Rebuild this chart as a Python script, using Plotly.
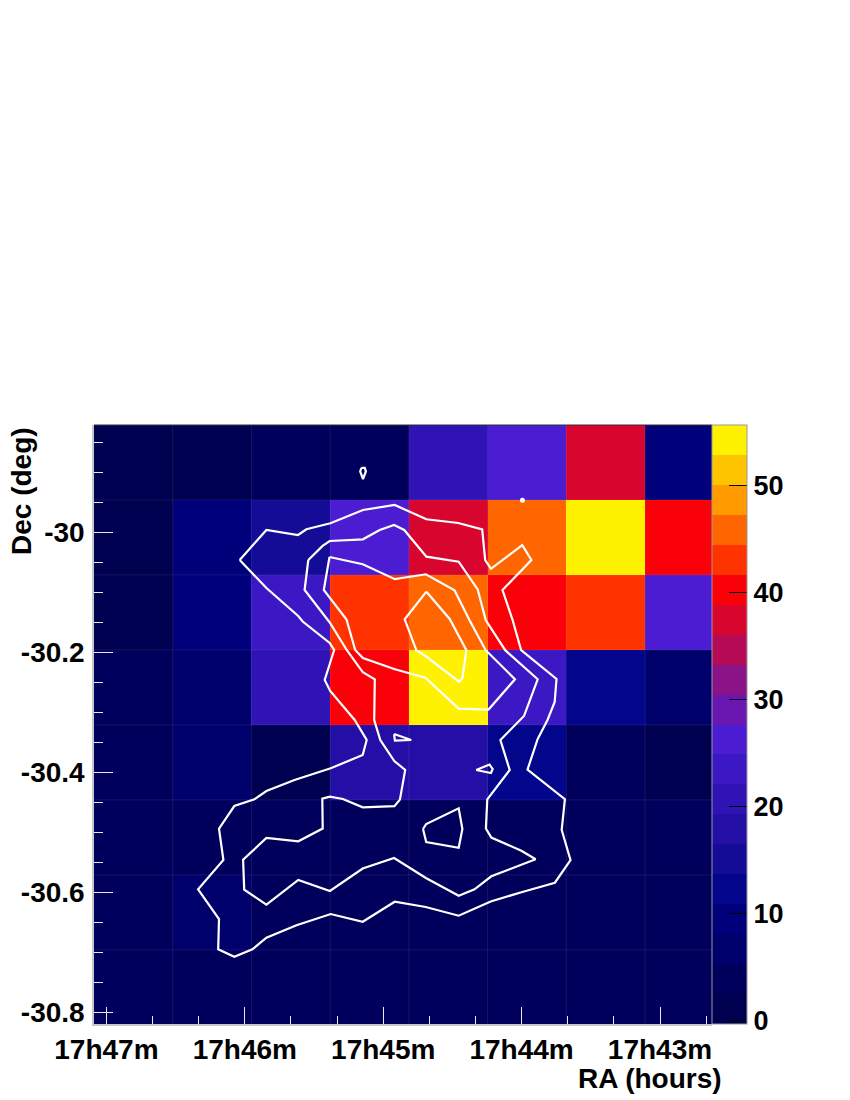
import plotly.graph_objects as go

# ---------------- data ----------------
# RA bin edges in minutes after 17h (left -> right on the plot), Dec bin edges (top -> bottom)
ra_edges = [47.090, 46.521, 45.952, 45.383, 44.815, 44.246, 43.677, 43.108, 42.540]
dec_edges = [-29.821, -29.946, -30.071, -30.196, -30.321, -30.446, -30.571, -30.696, -30.821]

# cell values, rows top -> bottom, columns left -> right (as displayed)
z_rows = [
    [1.2, 0.6, 3.4, 4.1, 20.5, 26.0, 37.2, 9.6],
    [1.5, 9.0, 15.0, 26.5, 37.8, 45.5, 55.66, 40.1],
    [1.0, 8.6, 23.2, 43.0, 46.2, 40.5, 42.8, 26.2],
    [3.2, 6.1, 20.9, 40.2, 54.8, 23.8, 12.0, 6.5],
    [3.6, 6.8, -0.3, 17.5, 18.2, 11.9, 4.6, 1.4],
    [3.0, 3.5, 4.0, 3.3, 3.8, 3.1, 4.5, 4.8],
    [3.3, 5.9, 3.6, 3.0, 3.2, 3.4, 3.9, 4.7],
    [3.1, 3.6, 3.8, 3.5, 3.0, 3.3, 3.7, 4.2],
]
z_min, z_max = -0.3, 55.66

palette = ["#000050", "#00005c", "#00006c", "#00007a", "#03058a", "#140b96", "#240fa6",
           "#3013b4", "#3c17c4", "#4b1cd2", "#6a17b2", "#8c1288", "#b50a55", "#d8062f",
           "#fa0008", "#ff3300", "#ff6600", "#ff9a00", "#ffc400", "#fff200"]

ra_ticks = [47, 46, 45, 44, 43]
ra_ticklabels = ["17h47m", "17h46m", "17h45m", "17h44m", "17h43m"]
dec_ticks = [-30.0, -30.2, -30.4, -30.6, -30.8]
dec_ticklabels = ["-30", "-30.2", "-30.4", "-30.6", "-30.8"]
cb_ticks = [0, 10, 20, 30, 40, 50]

# contour lines (RA minutes after 17h, Dec deg)
c_outer_ra = [46.0369, 45.8439, 45.6156, 45.5549, 45.3815, 45.1460, 44.9169, 44.6879, 44.4581, 44.2847,
              44.2630, 44.2211, 43.9950, 43.9292, 44.1380, 44.0650, 44.0036, 43.7478, 43.7609, 43.8129,
              43.8837, 43.9574, 43.6872, 43.7103, 43.6467, 43.7594, 43.9885, 44.2233, 44.4545, 44.6929,
              44.9169, 45.1481, 45.3793, 45.6265, 45.8439, 45.9451, 46.0759, 46.1922, 46.1864, 46.3374,
              46.1546, 46.1864, 46.0759, 45.9306, 45.8439, 45.6409, 45.3793, 45.1481, 45.1192, 45.2059,
              45.3830, 45.4227, 45.3541, 45.3866, 45.5817, 45.6142, 45.8439, 46.0369]
c_outer_dec = [-30.0462, -29.9962, -30.0045, -29.9950, -29.9850, -29.9628, -29.9545, -29.9783, -29.9845, -29.9953,
               -30.0462, -30.0608, -30.0215, -30.0462, -30.0962, -30.1462, -30.1962, -30.2445, -30.2828, -30.3128,
               -30.3445, -30.3955, -30.4448, -30.4962, -30.5462, -30.5840, -30.5990, -30.6152, -30.6390, -30.6245,
               -30.6157, -30.6490, -30.6362, -30.6550, -30.6757, -30.6950, -30.7073, -30.6950, -30.6445, -30.5950,
               -30.5462, -30.4940, -30.4562, -30.4450, -30.4312, -30.4128, -30.3933, -30.3712, -30.3462, -30.3128,
               -30.2645, -30.2462, -30.1962, -30.1845, -30.1487, -30.1395, -30.0928, -30.0462]

c_mid_ra = [45.5412, 45.4379, 45.3866, 45.1467, 45.0253, 44.9213, 44.8483, 44.7363, 44.6879, 44.4545,
            44.3172, 44.2594, 44.1185, 43.8837, 43.9827, 44.1532, 44.0860, 44.2479, 44.2580, 44.2189,
            44.0015, 43.8989, 43.9899, 44.2189, 44.3403, 44.4545, 44.6915, 44.9213, 45.1481, 45.3851,
            45.6135, 45.8439, 46.0043, 46.0123, 45.8439, 45.6135, 45.4372, 45.4400, 45.3851, 45.2912,
            45.1481, 44.9191, 44.8793, 44.8411, 44.9198, 45.0210, 45.0650, 45.0607, 45.1474, 45.2637,
            45.3851, 45.5679, 45.5412]
c_mid_dec = [-30.0462, -30.0228, -30.0145, -30.0117, -29.9962, -29.9878, -29.9962, -30.0267, -30.0407, -30.0490,
             -30.0953, -30.1462, -30.1965, -30.2450, -30.3062, -30.3462, -30.3962, -30.4450, -30.4937, -30.5087,
             -30.5307, -30.5450, -30.5528, -30.5733, -30.5950, -30.6057, -30.5762, -30.5428, -30.5603, -30.5978,
             -30.5795, -30.6205, -30.5955, -30.5455, -30.5095, -30.5150, -30.4938, -30.4440, -30.4407, -30.4445,
             -30.4583, -30.4565, -30.4455, -30.3962, -30.3812, -30.3462, -30.3128, -30.2450, -30.2333, -30.1962,
             -30.1507, -30.0962, -30.0462]

c_in_ra = [45.3880, 45.1474, 44.9155, 44.6915, 44.4848, 44.3772, 44.2594, 44.0477, 44.2392, 44.4545,
           44.6951, 44.9155, 45.1467, 45.2023, 45.2652, 45.4292, 45.3880]
c_in_dec = [-30.0412, -30.0533, -30.0782, -30.0700, -30.0967, -30.1462, -30.1965, -30.2450, -30.2955, -30.2938,
            -30.2423, -30.2283, -30.2095, -30.1962, -30.1453, -30.0962, -30.0412]

c_core_ra = [44.6879, 44.5195, 44.3989, 44.4278, 44.4523, 44.6879, 44.7601, 44.8447, 44.6879]
c_core_dec = [-30.0990, -30.1445, -30.1967, -30.2433, -30.2490, -30.2073, -30.1967, -30.1450, -30.0990]

isl_a_ra = [45.1576, 45.1337, 45.1250, 45.1460, 45.1662, 45.1576]
isl_a_dec = [-29.8928, -29.8928, -29.8987, -29.9112, -29.8987, -29.8928]
isl_c_ra = [44.9213, 44.7977, 44.9155, 44.9213]
isl_c_dec = [-30.3362, -30.3462, -30.3473, -30.3362]
isl_d_ra = [44.3281, 44.2320, 44.2088, 44.2218, 44.3281]
isl_d_dec = [-30.3962, -30.3870, -30.3948, -30.4012, -30.3962]
isl_e_ra = [44.7124, 44.6893, 44.4545, 44.4278, 44.4545, 44.6893, 44.7124]
isl_e_dec = [-30.4945, -30.4862, -30.4600, -30.4945, -30.5257, -30.5162, -30.4945]
dot_ra = [43.9942]
dot_dec = [-29.9467]

# ---------------- figure ----------------
n = len(palette)
colorscale = []
for i, c in enumerate(palette):
    colorscale.append([i / n, c])
    colorscale.append([(i + 1) / n, c])

# give plotly ascending coordinates
x_e = ra_edges[::-1]
y_e = dec_edges[::-1]
z = [row[::-1] for row in z_rows[::-1]]

FONT = "Liberation Sans, Arial, Helvetica, sans-serif"

fig = go.Figure()
fig.add_trace(go.Heatmap(
    x=x_e, y=y_e, z=z, zmin=z_min, zmax=z_max, colorscale=colorscale,
    hoverinfo="skip",
    colorbar=dict(
        x=1.0006, xanchor="left", xpad=0, y=0.5, yanchor="middle", ypad=0,
        len=1, lenmode="fraction", thickness=35, thicknessmode="pixels",
        outlinewidth=1, outlinecolor="#999999",
        ticks="inside", ticklen=18, tickcolor="black", tickwidth=1,
        tickvals=cb_ticks, ticktext=[str(v) for v in cb_ticks],
        tickfont=dict(family=FONT, size=27, color="black", weight="bold"),
    ),
))

line_style = dict(color="white", width=2.2)
for xs, ys in [(c_outer_ra, c_outer_dec), (c_mid_ra, c_mid_dec), (c_in_ra, c_in_dec),
               (c_core_ra, c_core_dec), (isl_a_ra, isl_a_dec), (isl_c_ra, isl_c_dec),
               (isl_d_ra, isl_d_dec), (isl_e_ra, isl_e_dec)]:
    fig.add_trace(go.Scatter(x=xs, y=ys, mode="lines", line=line_style,
                             showlegend=False, hoverinfo="skip"))
fig.add_trace(go.Scatter(x=dot_ra, y=dot_dec, mode="markers",
                         marker=dict(color="white", size=5), showlegend=False, hoverinfo="skip"))

# faint bin borders
shapes = []
for xv in ra_edges[1:-1]:
    shapes.append(dict(type="line", xref="x", yref="paper", x0=xv, x1=xv, y0=0, y1=1,
                       line=dict(color="rgba(255,255,255,0.08)", width=1), layer="above"))
for yv in dec_edges[1:-1]:
    shapes.append(dict(type="line", xref="paper", yref="y", x0=0, x1=1, y0=yv, y1=yv,
                       line=dict(color="rgba(255,255,255,0.08)", width=1), layer="above"))
shapes.append(dict(type="line", xref="paper", yref="paper", x0=0, x1=1, y0=1, y1=1,
                   line=dict(color="#333333", width=1)))

tick_font = dict(family=FONT, size=28, color="black", weight="bold")

fig.update_layout(
    width=850, height=1100, autosize=False,
    margin=dict(l=86, r=146, t=417, b=84, pad=0),
    paper_bgcolor="white", plot_bgcolor="white",
    showlegend=False,
    shapes=shapes,
    xaxis=dict(
        range=[47.0896, 42.6243], showgrid=False, zeroline=False,
        tickmode="array", tickvals=ra_ticks, ticktext=ra_ticklabels,
        ticks="inside", ticklen=17, tickwidth=1, tickcolor="#e8e8f0",
        minor=dict(dtick=1 / 3, tick0=43, ticks="inside", ticklen=8, tickwidth=1,
                   tickcolor="#e8e8f0", showgrid=False),
        showline=True, linecolor="#c8c8c8", linewidth=1.5,
        tickfont=tick_font, ticklabelstandoff=0,
    ),
    yaxis=dict(
        range=[-30.8195, -29.8212], showgrid=False, zeroline=False,
        tickmode="array", tickvals=dec_ticks, ticktext=dec_ticklabels,
        ticks="inside", ticklen=19, tickwidth=1, tickcolor="#e8e8f0",
        minor=dict(dtick=0.05, tick0=-30, ticks="inside", ticklen=9, tickwidth=1,
                   tickcolor="#e8e8f0", showgrid=False),
        showline=True, linecolor="#c8c8c8", linewidth=1.5,
        tickfont=tick_font, ticklabelstandoff=2,
    ),
    annotations=[
        dict(text="RA (hours)", xref="paper", yref="paper", x=1.019, y=0,
             xanchor="right", yanchor="top", yshift=-37, showarrow=False,
             font=dict(family=FONT, size=28, color="black", weight="bold")),
        dict(text="Dec (deg)", xref="paper", yref="paper", x=0, y=1,
             xanchor="center", yanchor="top", xshift=-73, textangle=-90, showarrow=False,
             font=dict(family=FONT, size=28, color="black", weight="bold")),
    ],
)

fig.write_html("out.html")
